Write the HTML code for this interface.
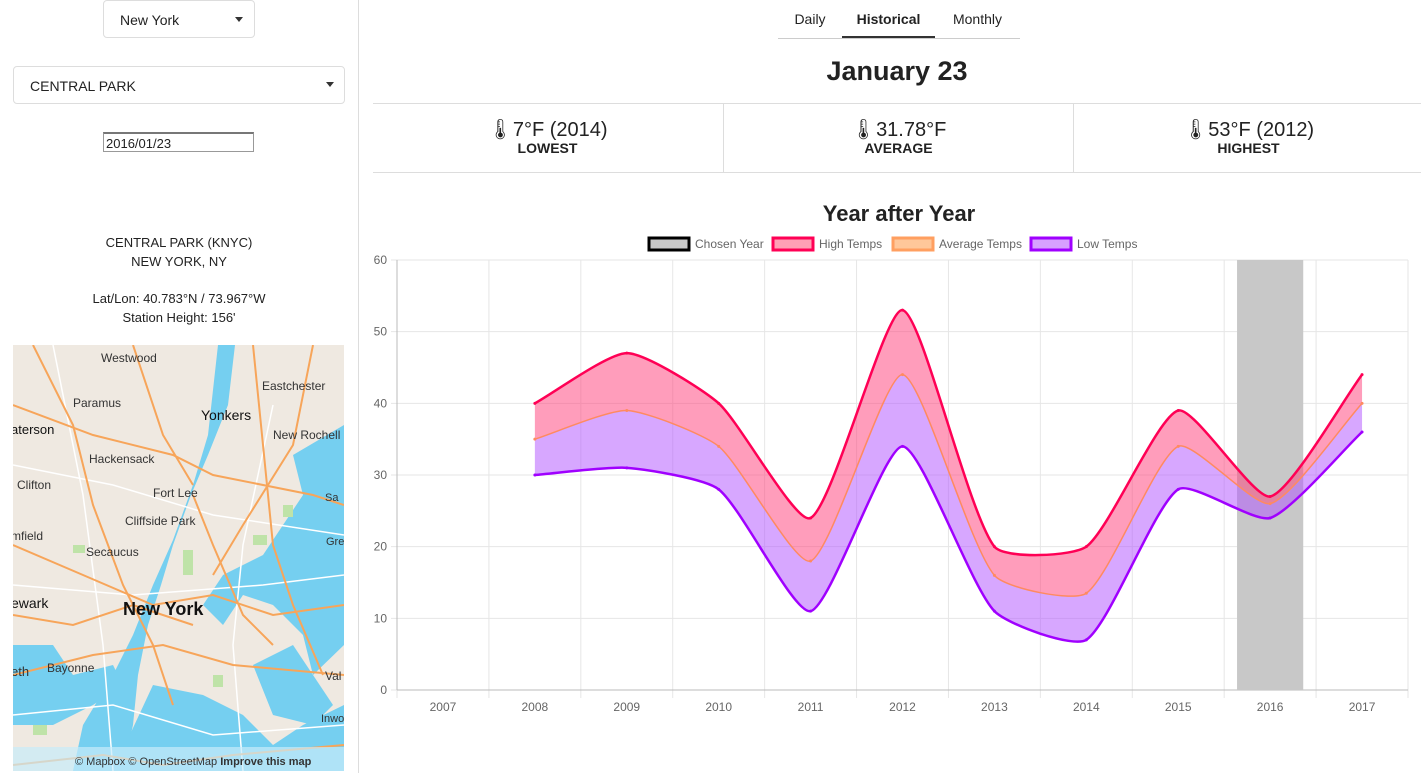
<!DOCTYPE html>
<html><head><meta charset="utf-8"><style>
body{margin:0;width:1421px;height:773px;overflow:hidden;background:#fff;font-family:"Liberation Sans",sans-serif;color:#222;position:relative}
.abs{position:absolute}
.sel{position:absolute;border:1px solid #ddd;border-radius:4px;background:#fff;font-size:14px;box-sizing:border-box}
.caret{position:absolute;width:0;height:0;border-left:4px solid transparent;border-right:4px solid transparent;border-top:5px solid #333}
.c{text-align:center;font-size:13px;color:#222}
.tab{position:absolute;top:0;height:38px;line-height:38px;font-size:14px;text-align:center}
.stat{position:absolute;top:104px;height:68px;text-align:center;width:349px}
.stat .v{font-size:20px;margin-top:13px}
.stat .l{font-size:14px;font-weight:bold;margin-top:-2px}
</style></head><body>
<div class="sel" style="left:103px;top:0;width:152px;height:38px"><span class="abs" style="left:16px;top:11px">New York</span><div class="caret" style="left:131px;top:16px"></div></div>
<div class="sel" style="left:13px;top:66px;width:332px;height:38px"><span class="abs" style="left:16px;top:11px">CENTRAL PARK</span><div class="caret" style="left:312px;top:15px"></div></div>
<div class="abs" style="left:103px;top:132px;width:151px;height:20px;border:1px solid #999;border-top:2px solid #777;font-size:13px;line-height:20px;box-sizing:border-box;padding-left:2px">2016/01/23</div>
<div class="abs c" style="left:0;width:358px;top:233px;line-height:19px">CENTRAL PARK (KNYC)<br>NEW YORK, NY</div>
<div class="abs c" style="left:0;width:358px;top:289px;line-height:19px">Lat/Lon: 40.783°N / 73.967°W<br>Station Height: 156'</div>
<div class="abs" style="left:358px;top:0;width:1px;height:773px;background:#ddd"></div>
<svg class="abs" style="left:13px;top:345px" width="331" height="426" viewBox="0 0 331 426">
<rect width="331" height="426" fill="#efe9e1"/>
<g fill="#75cff0">
<path d="M205 0 L222 0 L215 60 L195 110 L178 150 L160 200 L148 240 L135 280 L125 330 L120 380 L110 426 L60 426 L70 380 L100 330 L120 290 L140 240 L160 195 L180 140 L195 90 Z"/>
<path d="M280 110 L331 80 L331 300 L300 330 L290 290 L260 260 L230 250 L210 280 L190 260 L210 230 L250 210 L270 180 L290 150 Z"/>
<path d="M0 300 L40 300 L60 330 L100 320 L110 340 L80 360 L40 380 L0 380 Z"/>
<path d="M140 340 L190 350 L230 370 L260 400 L290 380 L331 360 L331 426 L100 426 Z"/>
<path d="M240 320 L280 300 L300 330 L320 360 L300 380 L260 370 Z"/>
</g>
<g fill="#bfe3a8"><rect x="170" y="205" width="10" height="25"/><rect x="240" y="190" width="14" height="10"/><rect x="60" y="200" width="12" height="8"/><rect x="270" y="160" width="10" height="12"/><rect x="20" y="380" width="14" height="10"/><rect x="200" y="330" width="10" height="12"/></g>
<g fill="none" stroke="#fff" stroke-width="1.5">
<path d="M0 120 L100 140 L200 170 L331 190"/><path d="M0 240 L120 250 L250 240 L331 230"/><path d="M40 0 L70 150 L90 300 L100 426"/><path d="M260 60 L230 200 L220 300 L230 426"/><path d="M0 370 L100 360 L200 390 L331 380"/>
</g>
<g fill="none" stroke="#f7a55a" stroke-width="2">
<path d="M0 60 L80 90 L160 110 L200 130 L300 150 L331 160"/>
<path d="M20 0 L60 80 L80 160 L110 240 L140 300 L160 360"/>
<path d="M0 200 L70 230 L140 260 L200 250 L260 270 L331 260"/>
<path d="M0 330 L80 310 L150 300 L220 320 L331 330"/>
<path d="M240 0 L250 100 L260 200 L280 260 L310 330"/>
<path d="M120 0 L150 90 L180 140"/>
<path d="M0 420 L90 410 L150 420 L220 410 L331 400"/>
<path d="M300 0 L280 100 L230 180 L200 230"/>
<path d="M180 150 L200 200 L230 270 L260 300"/>
<path d="M0 270 L60 280 L120 260 L180 280"/>
</g>
<g font-family="Liberation Sans,sans-serif" fill="#333" font-size="12">
<text x="88" y="17">Westwood</text><text x="60" y="62">Paramus</text><text x="249" y="45">Eastchester</text>
<text x="188" y="75" font-size="14" fill="#111">Yonkers</text><text x="-2" y="89" font-size="13" fill="#111">aterson</text>
<text x="260" y="94">New Rochell</text><text x="76" y="118">Hackensack</text><text x="4" y="144">Clifton</text>
<text x="140" y="152">Fort Lee</text><text x="112" y="180">Cliffside Park</text><text x="-2" y="195">mfield</text>
<text x="73" y="211">Secaucus</text><text x="-2" y="263" font-size="14" fill="#111">ewark</text>
<text x="110" y="270" font-size="18" font-weight="bold" fill="#111">New York</text><text x="-2" y="331" font-size="13">eth</text>
<text x="34" y="327">Bayonne</text><text x="312" y="156" font-size="11">Sa</text><text x="313" y="200" font-size="11">Gre</text>
<text x="312" y="335" font-size="12">Val</text><text x="308" y="377" font-size="11">Inwo</text>
</g>
<rect x="0" y="402" width="331" height="24" fill="rgba(200,235,250,.7)"/>
<text x="62" y="420" font-family="Liberation Sans,sans-serif" font-size="11" fill="#333">© Mapbox © OpenStreetMap <tspan font-weight="bold">Improve this map</tspan></text>
</svg>
<div class="abs" style="left:778px;top:38px;width:242px;height:1px;background:#ccc"></div>
<div class="tab" style="left:778px;width:64px">Daily</div>
<div class="tab" style="left:842px;width:93px;font-weight:bold;border-bottom:2px solid #333;height:38px;box-sizing:border-box">Historical</div>
<div class="tab" style="left:935px;width:85px">Monthly</div>
<div class="abs" style="left:373px;width:1048px;top:56px;text-align:center;font-size:27px;font-weight:bold">January 23</div>
<div class="abs" style="left:373px;top:103px;width:1048px;height:1px;background:#ddd"></div>
<div class="abs" style="left:373px;top:172px;width:1048px;height:1px;background:#ddd"></div>
<div class="abs" style="left:723px;top:104px;width:1px;height:68px;background:#ddd"></div>
<div class="abs" style="left:1073px;top:104px;width:1px;height:68px;background:#ddd"></div>
<div class="stat" style="left:373px"><div class="v">🌡7°F (2014)</div><div class="l">LOWEST</div></div>
<div class="stat" style="left:724px"><div class="v">🌡31.78°F</div><div class="l">AVERAGE</div></div>
<div class="stat" style="left:1074px"><div class="v">🌡53°F (2012)</div><div class="l">HIGHEST</div></div>
<svg id="chart" class="abs" style="left:0;top:0" width="1421" height="773"></svg>
<script>
const years=["2007","2008","2009","2010","2011","2012","2013","2014","2015","2016","2017"];
const highTemps=[null,40,47,40,24,53,20,20,39,27,44];
const avgTemps=[null,35,39,34,18,44,16,13.5,34,26,40];
const lowTemps=[null,30,31,28,11,34,11,7,28,24,36];
const chosenYear="2016";
const yTicks=[0,10,20,30,40,50,60];
const L=397,R=1408,T=260,B=690,yMax=60;
const svg=document.getElementById('chart');const NS='http://www.w3.org/2000/svg';
const bw=(R-L)/years.length;
const x=i=>L+bw*(i+0.5);const y=v=>B-(v/yMax)*(B-T);
function mk(t,a,p){const e=document.createElementNS(NS,t);for(const k in a)e.setAttribute(k,a[k]);(p||svg).appendChild(e);return e;}
function tx(s,a){const e=mk('text',a);e.textContent=s;return e;}
const title=tx('Year after Year',{x:899,y:221,'text-anchor':'middle','font-size':22,'font-weight':'bold',fill:'#222'});

const leg=[["Chosen Year","#c8c8c8","#000",648],["High Temps","#ff9fb5","#ff0055",772],["Average Temps","#ffc79a","#ff9f60",892],["Low Temps","#d7a0ff","#a000ff",1030]];
leg.forEach(l=>{const g=mk('g',{});
mk('rect',{x:l[3]+1,y:238,width:40,height:12,fill:l[1],stroke:l[2],'stroke-width':3},g);
const t=mk('text',{x:l[3]+47,y:248,'font-size':12,fill:'#666'},g);t.textContent=l[0];});
yTicks.forEach(v=>{mk('line',{x1:L-6,x2:R,y1:y(v),y2:y(v),stroke:'#e6e6e6'});
const t=tx(v,{x:L-10,y:y(v)+4,'text-anchor':'end','font-size':12,fill:'#666'});});
for(let i=0;i<=years.length;i++)mk('line',{x1:L+bw*i,x2:L+bw*i,y1:T,y2:B+8,stroke:'#e6e6e6'});
years.forEach((yr,i)=>{const t=tx(yr,{x:x(i),y:711,'text-anchor':'middle','font-size':12,fill:'#666'});});
mk('line',{x1:L,x2:L,y1:T,y2:B,stroke:'#bbb'});mk('line',{x1:L,x2:R,y1:B,y2:B,stroke:'#bbb'});
const ci=years.indexOf(chosenYear);const bar=mk('rect',{x:x(ci)-bw*0.36,y:y(yMax),width:bw*0.72,height:B-y(yMax),fill:'#c8c8c8'});

function pts(d){const p=[];d.forEach((v,i)=>{if(v!=null)p.push([x(i),y(v)]);});return p;}
function curve(p,rev){if(rev)p=p.slice().reverse();let s='';const t=0.2;
for(let i=0;i<p.length;i++){if(i==0){s+='M'+p[0][0]+' '+p[0][1];continue;}
const cp=(k)=>{const a=p[Math.max(k-1,0)],b=p[k],c=p[Math.min(k+1,p.length-1)];
const d01=Math.hypot(b[0]-a[0],b[1]-a[1]),d12=Math.hypot(c[0]-b[0],c[1]-b[1]);
let fa=d01/(d01+d12)||0,fb=d12/(d01+d12)||0;fa*=t;fb*=t;
return [[b[0]-fa*(c[0]-a[0]),b[1]-fa*(c[1]-a[1])],[b[0]+fb*(c[0]-a[0]),b[1]+fb*(c[1]-a[1])]];};
const c1=cp(i-1)[1],c2=cp(i)[0];s+=' C'+c1[0]+' '+c1[1]+' '+c2[0]+' '+c2[1]+' '+p[i][0]+' '+p[i][1];}return s;}
const ph=pts(highTemps),pa=pts(avgTemps),pl=pts(lowTemps);
const f1=mk('path',{d:curve(ph)+' L'+curve(pa,true).slice(1)+'Z',fill:'rgba(255,60,120,0.5)'});
const f2=mk('path',{d:curve(pa)+' L'+curve(pl,true).slice(1)+'Z',fill:'rgba(175,80,255,0.5)'});
[[ph,'#ff0055','high-temps-line',2.5],[pa,'#ff8a60','average-temps-line',1.5],[pl,'#a000ff','low-temps-line',2.5]].forEach(s=>{
const e=mk('path',{d:curve(s[0]),fill:'none',stroke:s[1],'stroke-width':s[3]});
s[0].forEach(q=>{const c=mk('circle',{cx:q[0],cy:q[1],r:1.5,fill:s[1]});});});
</script>
</body></html>
